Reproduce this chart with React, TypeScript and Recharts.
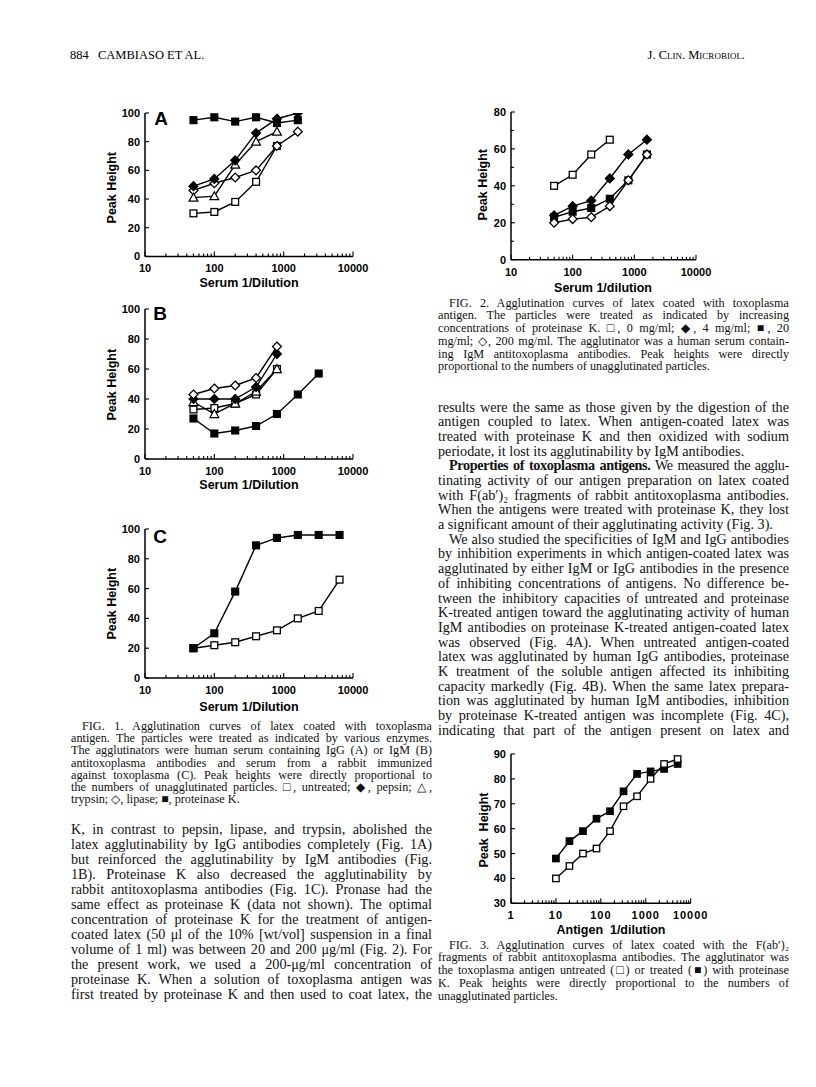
import React from 'react';
import { Line, LineChart, XAxis, YAxis } from 'recharts';

// ---- Fig. 1: serum dilutions and peak heights ----
const fig1Dil = [50, 100, 200, 400, 800, 1600, 3200, 6400];

const aUntreated = [30, 31, 38, 52, 77];
const aLipase = [46, 51, 55, 60, 77, 87];
const aTrypsin = [41, 42, 64, 80, 87];
const aPepsin = [49, 54, 67, 86, 96, 100];
const aProtK = [95, 97, 94, 97, 93, 95];

const bUntreated = [33, 34, 37, 43, 60];
const bTrypsin = [38, 30, 37, 45, 60];
const bPepsin = [40, 40, 40, 48, 70];
const bLipase = [43, 47, 49, 54, 75];
const bProtK = [27, 17, 19, 22, 30, 43, 57];

const cUntreated = [20, 22, 24, 28, 32, 40, 45, 66];
const cProtK = [20, 30, 58, 89, 94, 96, 96, 96];

// ---- Fig. 2: proteinase K concentrations ----
const fig2Dil = [50, 100, 200, 400, 800, 1600];
const f2Mg0 = [40, 46, 57, 65];
const f2Mg20 = [23, 26, 28, 33, 43, 57];
const f2Mg4 = [24, 29, 32, 44, 57, 65];
const f2Mg200 = [20, 22, 23, 29, 43, 57];

// ---- Fig. 3: antigen dilutions ----
const fig3Dil = [10, 20, 40, 80, 160, 320, 640, 1280, 2560, 5120];
const f3ProtK = [48, 55, 59, 64, 67, 75, 82, 83, 84, 86];
const f3Untreated = [40, 45, 50, 52, 59, 69, 73, 80, 86, 88];

// ---- ticks ----
const decadeMinors = (from: number, to: number) => {
  const out: number[] = [];
  for (let d = from; d < to; d *= 10) for (let k = 2; k <= 9; k++) out.push(k * d);
  return out;
};
const serumMajors = [10, 100, 1000, 10000];
const serumTicks = [...serumMajors, ...decadeMinors(10, 10000)];
const antigenMajors = [1, 10, 100, 1000, 10000];
const antigenTicks = [...antigenMajors, ...decadeMinors(1, 10000)];
const fig1YTicks = [0, 20, 40, 60, 80, 100];
const fig2YLabels = [0, 20, 40, 60, 80];
const fig2YTicks = [0, 10, 20, 30, 40, 50, 60, 70, 80];
const fig3YTicks = [30, 40, 50, 60, 70, 80, 90];

// ---- text ----
const fig1Caption = [
  'FIG. 1. Agglutination curves of latex coated with toxoplasma',
  'antigen. The particles were treated as indicated by various enzymes.',
  'The agglutinators were human serum containing IgG (A) or IgM (B)',
  'antitoxoplasma antibodies and serum from a rabbit immunized',
  'against toxoplasma (C). Peak heights were directly proportional to',
  'the numbers of unagglutinated particles. □, untreated; ◆, pepsin; △,',
  'trypsin; ◇, lipase; ■, proteinase K.',
];
const leftBody = [
  'K, in contrast to pepsin, lipase, and trypsin, abolished the',
  'latex agglutinability by IgG antibodies completely (Fig. 1A)',
  'but reinforced the agglutinability by IgM antibodies (Fig.',
  '1B). Proteinase K also decreased the agglutinability by',
  'rabbit antitoxoplasma antibodies (Fig. 1C). Pronase had the',
  'same effect as proteinase K (data not shown). The optimal',
  'concentration of proteinase K for the treatment of antigen-',
  'coated latex (50 μl of the 10% [wt/vol] suspension in a final',
  'volume of 1 ml) was between 20 and 200 μg/ml (Fig. 2). For',
  'the present work, we used a 200-μg/ml concentration of',
  'proteinase K. When a solution of toxoplasma antigen was',
  'first treated by proteinase K and then used to coat latex, the',
];
const fig2Caption = [
  'FIG. 2. Agglutination curves of latex coated with toxoplasma',
  'antigen. The particles were treated as indicated by increasing',
  'concentrations of proteinase K. □, 0 mg/ml; ◆, 4 mg/ml; ■, 20',
  'mg/ml; ◇, 200 mg/ml. The agglutinator was a human serum contain-',
  'ing IgM antitoxoplasma antibodies. Peak heights were directly',
  'proportional to the numbers of unagglutinated particles.',
];
const rightPara1 = [
  'results were the same as those given by the digestion of the',
  'antigen coupled to latex. When antigen-coated latex was',
  'treated with proteinase K and then oxidized with sodium',
  'periodate, it lost its agglutinability by IgM antibodies.',
];
const rightPara2 = [
  '**Properties of toxoplasma antigens.** We measured the agglu-',
  'tinating activity of our antigen preparation on latex coated',
  'with F(ab′)₂ fragments of rabbit antitoxoplasma antibodies.',
  'When the antigens were treated with proteinase K, they lost',
  'a significant amount of their agglutinating activity (Fig. 3).',
];
const rightPara3 = [
  'We also studied the specificities of IgM and IgG antibodies',
  'by inhibition experiments in which antigen-coated latex was',
  'agglutinated by either IgM or IgG antibodies in the presence',
  'of inhibiting concentrations of antigens. No difference be-',
  'tween the inhibitory capacities of untreated and proteinase',
  'K-treated antigen toward the agglutinating activity of human',
  'IgM antibodies on proteinase K-treated antigen-coated latex',
  'was observed (Fig. 4A). When untreated antigen-coated',
  'latex was agglutinated by human IgG antibodies, proteinase',
  'K treatment of the soluble antigen affected its inhibiting',
  'capacity markedly (Fig. 4B). When the same latex prepara-',
  'tion was agglutinated by human IgM antibodies, inhibition',
  'by proteinase K-treated antigen was incomplete (Fig. 4C),',
  'indicating that part of the antigen present on latex and',
];
const fig3Caption = [
  'FIG. 3. Agglutination curves of latex coated with the F(ab′)₂',
  'fragments of rabbit antitoxoplasma antibodies. The agglutinator was',
  'the toxoplasma antigen untreated (□) or treated (■) with proteinase',
  'K. Peak heights were directly proportional to the numbers of',
  'unagglutinated particles.',
];

type Shape = 'sq' | 'sqf' | 'dia' | 'diaf' | 'tri';

interface Series {
  xs: number[];
  ys: number[];
  shape: Shape;
}

const SANS = '"Liberation Sans", Arial, sans-serif';
const SERIF = '"Liberation Serif", "Times New Roman", serif';

function Marker({ cx, cy, shape, s }: { cx: number; cy: number; shape: Shape; s: number }) {
  const stroke = '#000';
  if (shape === 'sq' || shape === 'sqf') {
    return (
      <rect x={cx - s} y={cy - s} width={2 * s} height={2 * s}
        fill={shape === 'sqf' ? '#000' : '#fff'} stroke={stroke} strokeWidth={1.3} />
    );
  }
  if (shape === 'dia' || shape === 'diaf') {
    const d = s * 1.3;
    return (
      <polygon points={`${cx},${cy - d} ${cx + d},${cy} ${cx},${cy + d} ${cx - d},${cy}`}
        fill={shape === 'diaf' ? '#000' : '#fff'} stroke={stroke} strokeWidth={1.3} />
    );
  }
  const t = s * 1.3;
  return (
    <polygon points={`${cx},${cy - t} ${cx + t},${cy + t * 0.8} ${cx - t},${cy + t * 0.8}`}
      fill="#fff" stroke={stroke} strokeWidth={1.2} />
  );
}

interface PanelProps {
  x0: number;
  xEnd: number;
  yTop: number;
  yBot: number;
  xDomain: [number, number];
  yDomain: [number, number];
  xTicks: number[];
  xMajors: number[];
  yTicks: number[];
  yLabels: number[];
  series: Series[];
  letter?: string;
  letterPos?: [number, number];
  xTitle: string;
  xTitleX: number;
  xTitleY: number;
  yTitle: string;
  yTitleX: number;
  yTitleY: number;
  markerSize: number;
  tickSpacing?: number;
}

const ML = 70;
const MT = 15;
const MR = 26;
const MB = 45;

function Panel(p: PanelProps) {
  const left = p.x0 - ML;
  const top = p.yTop - MT;
  const width = ML + (p.xEnd - p.x0) + MR;
  const height = MT + (p.yBot - p.yTop) + MB;

  const xTick = (props: any) => {
    const { x, y, payload } = props;
    const major = p.xMajors.includes(payload.value);
    return (
      <g>
        <line x1={x} x2={x} y1={y} y2={y - (major ? 5 : 3)} stroke="#000" strokeWidth={1.1} />
        {major && (
          <text x={x} y={y + 12} textAnchor="middle" dominantBaseline="central"
            fontFamily={SANS} fontWeight="bold" fontSize={11} letterSpacing={p.tickSpacing ?? 0} fill="#000">
            {payload.value}
          </text>
        )}
      </g>
    );
  };

  const yTick = (props: any) => {
    const { x, y, payload } = props;
    const labelled = p.yLabels.includes(payload.value);
    return (
      <g>
        <line x1={x} x2={x + (labelled ? 4 : 3)} y1={y} y2={y} stroke="#000" strokeWidth={1.1} />
        {labelled && (
          <text x={x - 5} y={y} textAnchor="end" dominantBaseline="central"
            fontFamily={SANS} fontWeight="bold" fontSize={11} fill="#000">
            {payload.value}
          </text>
        )}
      </g>
    );
  };

  const yLabel = () => (
    <g>
      <text x={p.yTitleX - left} y={p.yTitleY - top} textAnchor="middle" dominantBaseline="central"
        transform={`rotate(-90 ${p.yTitleX - left} ${p.yTitleY - top})`}
        fontFamily={SANS} fontWeight="bold" fontSize={12.5} fill="#000" style={{ whiteSpace: 'pre' }}>
        {p.yTitle}
      </text>
      {p.letter && p.letterPos && (
        <text x={p.letterPos[0] - left} y={p.letterPos[1] - top} textAnchor="middle" dominantBaseline="central"
          fontFamily={SANS} fontWeight="bold" fontSize={19} fill="#000">
          {p.letter}
        </text>
      )}
    </g>
  );

  const xLabel = () => (
    <text x={p.xTitleX - left} y={p.xTitleY - top} textAnchor="middle" dominantBaseline="central"
      fontFamily={SANS} fontWeight="bold" fontSize={12.5} fill="#000" style={{ whiteSpace: 'pre' }}>
      {p.xTitle}
    </text>
  );

  return (
    <div style={{ position: 'absolute', left, top }}>
      <LineChart width={width} height={height} margin={{ top: MT, right: MR, left: 0, bottom: 0 }}>
        <XAxis type="number" dataKey="x" scale="log" domain={p.xDomain} allowDataOverflow
          ticks={p.xTicks} interval={0} tick={xTick} tickLine={false} tickSize={0} tickMargin={0}
          height={MB} axisLine={{ stroke: '#000', strokeWidth: 1.5 }} label={xLabel} />
        <YAxis type="number" dataKey="y" domain={p.yDomain} allowDataOverflow
          ticks={p.yTicks} interval={0} tick={yTick} tickLine={false} tickSize={0} tickMargin={0}
          width={ML} axisLine={{ stroke: '#000', strokeWidth: 1.5 }} label={yLabel} />
        {p.series.map((s, si) => (
          <Line key={si} data={s.ys.map((y, i) => ({ x: s.xs[i], y }))} dataKey="y"
            stroke="#000" strokeWidth={1.4} isAnimationActive={false} activeDot={false}
            dot={(d: any) => <Marker key={`${si}-${d.index}`} cx={d.cx} cy={d.cy} shape={s.shape} s={p.markerSize} />} />
        ))}
      </LineChart>
    </div>
  );
}

function renderLine(t: string) {
  const bold = t.match(/^\*\*(.+?)\*\*(.*)$/);
  if (bold) {
    return [<b key="b">{bold[1]}</b>, <span key="r">{bold[2]}</span>];
  }
  return t;
}

function TextBlock({ lines, x, y, width, lh, size, indent, lastLeft = true }: {
  lines: string[]; x: number; y: number; width: number; lh: number; size: number; indent: number; lastLeft?: boolean;
}) {
  return (
    <div style={{ position: 'absolute', left: x, top: y, width, fontFamily: SERIF, fontSize: size, color: '#111' }}>
      {lines.map((ln, i) => {
        const last = lastLeft && i === lines.length - 1;
        const tight = ln.startsWith('**');
        return (
          <div key={i} style={{
            height: lh, lineHeight: `${lh}px`, paddingLeft: i === 0 ? indent : 0,
            textAlign: last ? 'left' : 'justify', textAlignLast: last ? 'left' : 'justify',
            letterSpacing: tight ? -0.35 : 0, wordSpacing: tight ? -1.5 : 0,
          }}>
            {renderLine(ln)}
          </div>
        );
      })}
    </div>
  );
}

const fig1Panel = {
  x0: 145, xEnd: 353, xDomain: [10, 10000] as [number, number], yDomain: [0, 100] as [number, number],
  xTicks: serumTicks, xMajors: serumMajors, yTicks: fig1YTicks, yLabels: fig1YTicks,
  xTitle: 'Serum 1/Dilution', xTitleX: 249, yTitle: 'Peak Height', yTitleX: 112, markerSize: 3.4,
};

export default function App() {
  const LX = 71;
  const LW = 361;
  const RX = 438;
  const RW = 351;
  const BODY = 14.2;
  const CAP = 12.2;
  return (
    <div style={{ position: 'absolute', left: 0, top: 0, width: 816, height: 1087, background: '#fff', overflow: 'hidden' }}>
      <div style={{ position: 'absolute', left: 70, top: 48, fontFamily: SERIF, fontSize: 12.5 }}>884</div>
      <div style={{ position: 'absolute', left: 98, top: 48, fontFamily: SERIF, fontSize: 12.5 }}>CAMBIASO ET AL.</div>
      <div style={{ position: 'absolute', right: 71, top: 48, fontFamily: SERIF, fontSize: 12.5, fontVariant: 'small-caps' }}>J. Clin. Microbiol.</div>

      <Panel {...fig1Panel} yTop={113.3} yBot={256.7} letter="A" letterPos={[161, 119]}
        xTitleY={283} yTitleY={188}
        series={[
          { xs: fig1Dil, ys: aUntreated, shape: 'sq' },
          { xs: fig1Dil, ys: aLipase, shape: 'dia' },
          { xs: fig1Dil, ys: aTrypsin, shape: 'tri' },
          { xs: fig1Dil, ys: aPepsin, shape: 'diaf' },
          { xs: fig1Dil, ys: aProtK, shape: 'sqf' },
        ]} />
      <Panel {...fig1Panel} yTop={309.3} yBot={459.3} letter="B" letterPos={[160, 314]}
        xTitleY={485} yTitleY={385}
        series={[
          { xs: fig1Dil, ys: bUntreated, shape: 'sq' },
          { xs: fig1Dil, ys: bTrypsin, shape: 'tri' },
          { xs: fig1Dil, ys: bPepsin, shape: 'diaf' },
          { xs: fig1Dil, ys: bLipase, shape: 'dia' },
          { xs: fig1Dil, ys: bProtK, shape: 'sqf' },
        ]} />
      <Panel {...fig1Panel} yTop={529.3} yBot={678.3} letter="C" letterPos={[160, 537]}
        xTitleY={707} yTitleY={604}
        series={[
          { xs: fig1Dil, ys: cUntreated, shape: 'sq' },
          { xs: fig1Dil, ys: cProtK, shape: 'sqf' },
        ]} />

      <Panel x0={511} xEnd={696} yTop={112.3} yBot={260} xDomain={[10, 10000]} yDomain={[0, 80]}
        xTicks={serumTicks} xMajors={serumMajors} yTicks={fig2YTicks} yLabels={fig2YLabels}
        xTitle="Serum 1/dilution" xTitleX={603} xTitleY={288} yTitle="Peak Height" yTitleX={483} yTitleY={185}
        markerSize={3.4}
        series={[
          { xs: fig2Dil, ys: f2Mg0, shape: 'sq' },
          { xs: fig2Dil, ys: f2Mg20, shape: 'sqf' },
          { xs: fig2Dil, ys: f2Mg4, shape: 'diaf' },
          { xs: fig2Dil, ys: f2Mg200, shape: 'dia' },
        ]} />

      <Panel x0={511} xEnd={690.7} yTop={754} yBot={903.3} xDomain={[1, 10000]} yDomain={[30, 90]}
        xTicks={antigenTicks} xMajors={antigenMajors} yTicks={fig3YTicks} yLabels={fig3YTicks}
        xTitle="Antigen  1/dilution" xTitleX={611} xTitleY={930} yTitle="Peak  Height" yTitleX={484} yTitleY={830}
        markerSize={3.2} tickSpacing={1}
        series={[
          { xs: fig3Dil, ys: f3ProtK, shape: 'sqf' },
          { xs: fig3Dil, ys: f3Untreated, shape: 'sq' },
        ]} />

      <TextBlock lines={fig1Caption} x={LX} y={720} width={LW} lh={12.2} size={CAP} indent={11} />
      <TextBlock lines={leftBody} x={LX} y={822} width={LW} lh={15} size={BODY} indent={0} lastLeft={false} />

      <TextBlock lines={fig2Caption} x={RX} y={296.5} width={RW} lh={12.8} size={CAP} indent={11} />
      <TextBlock lines={rightPara1} x={RX} y={399.7} width={RW} lh={14.68} size={BODY} indent={0} />
      <TextBlock lines={rightPara2} x={RX} y={399.7 + 4 * 14.68} width={RW} lh={14.68} size={BODY} indent={11} />
      <TextBlock lines={rightPara3} x={RX} y={399.7 + 9 * 14.68} width={RW} lh={14.68} size={BODY} indent={11} lastLeft={false} />

      <TextBlock lines={fig3Caption} x={RX} y={938.5} width={RW} lh={12.8} size={CAP} indent={11} />
    </div>
  );
}
